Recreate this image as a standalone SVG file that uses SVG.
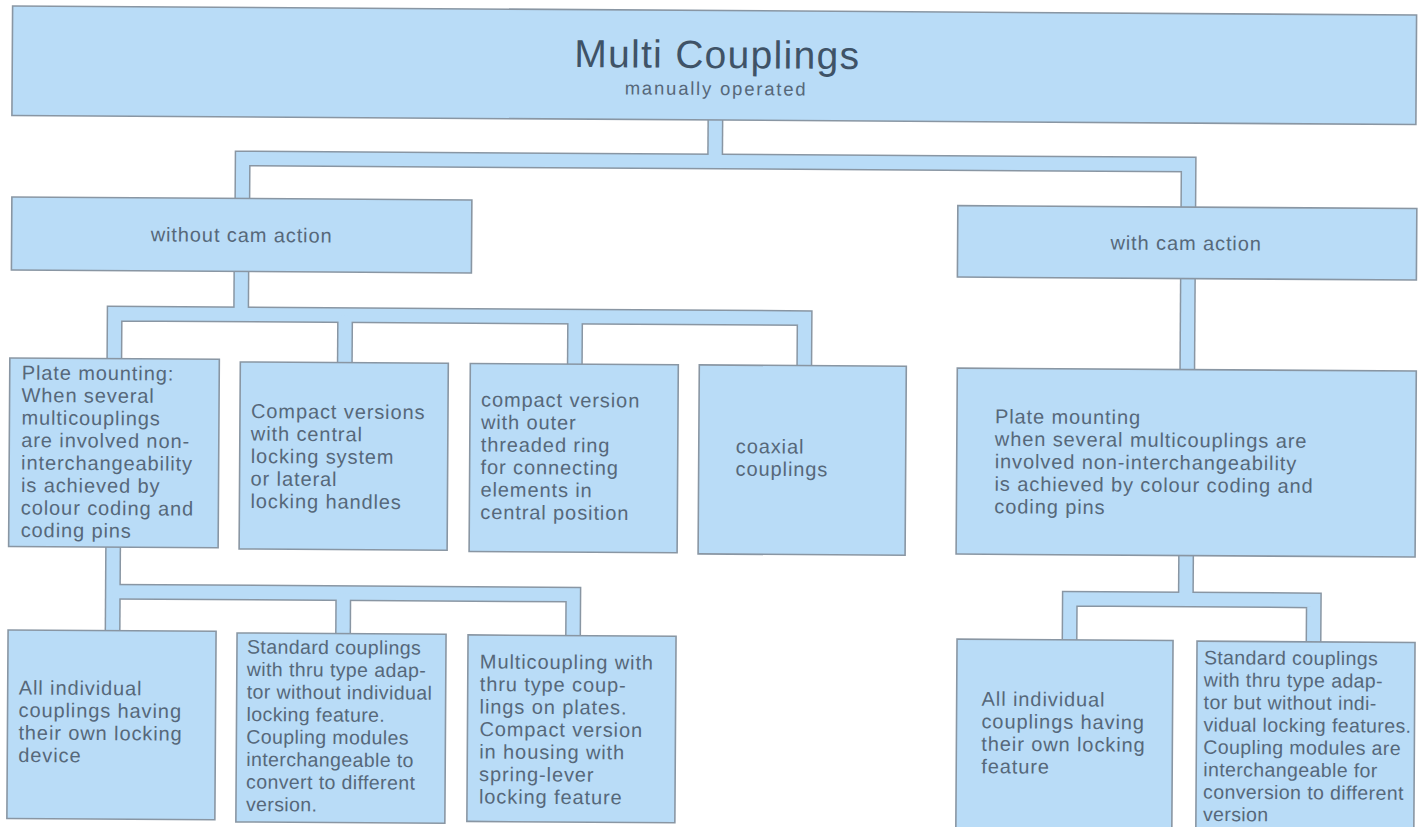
<svg xmlns="http://www.w3.org/2000/svg" width="1426" height="827" viewBox="0 0 1426 827">
<style>
.box{fill:#b9dcf7;stroke:#8996a3;stroke-width:1.6}
.po{fill:none;stroke:#8996a3;stroke-width:16;stroke-linejoin:miter}
.pi{fill:none;stroke:#b9dcf7;stroke-width:13;stroke-linejoin:miter}
text{font-family:"Liberation Sans",Arial,Helvetica,sans-serif;fill:#56687a}
.b{font-size:20px;letter-spacing:0.9px}
.n{font-size:19.5px;letter-spacing:0.4px}
.c{text-anchor:middle}
.t{font-size:39px;letter-spacing:1.3px;fill:#3f5367}
.s{font-size:18.5px;letter-spacing:1.8px}
</style>
<rect x="0" y="0" width="1426" height="827" fill="#ffffff"/>
<g transform="rotate(0.37 713 413)">
<g id="connectors">
<path class="po" d="M241,204 V161.5 H1187 V206"/>
<path class="po" d="M713.5,118 V161.5"/>
<path class="po" d="M114,364 V317.5 H804 V367"/>
<path class="po" d="M240.5,272 V317.5"/>
<path class="po" d="M344.5,317.5 V367"/>
<path class="po" d="M574.5,317.5 V367"/>
<path class="po" d="M1187,274 V368"/>
<path class="po" d="M114,549 V637"/>
<path class="po" d="M114,595.5 H574.5 V638"/>
<path class="po" d="M344.5,595.5 V638"/>
<path class="po" d="M1187,551 V596.5"/>
<path class="po" d="M1071,640 V596.5 H1315 V640"/>
<path class="pi" d="M241,204 V161.5 H1187 V206"/>
<path class="pi" d="M713.5,118 V161.5"/>
<path class="pi" d="M114,364 V317.5 H804 V367"/>
<path class="pi" d="M240.5,272 V317.5"/>
<path class="pi" d="M344.5,317.5 V367"/>
<path class="pi" d="M574.5,317.5 V367"/>
<path class="pi" d="M1187,274 V368"/>
<path class="pi" d="M114,549 V637"/>
<path class="pi" d="M114,595.5 H574.5 V638"/>
<path class="pi" d="M344.5,595.5 V638"/>
<path class="pi" d="M1187,551 V596.5"/>
<path class="pi" d="M1071,640 V596.5 H1315 V640"/>
</g>
<g id="root">
<rect class="box" x="10" y="10.5" width="1404" height="109.5"/>
<text class="t c" x="715" y="68">Multi Couplings</text>
<text class="s c" x="714" y="95">manually operated</text>
</g>
<g id="without-cam">
<rect class="box" x="10.5" y="201.5" width="460" height="73"/>
<text class="b c" x="240.5" y="245">without cam action</text>
</g>
<g id="with-cam">
<rect class="box" x="956.5" y="204" width="459" height="71.5"/>
<text class="b c" x="1185" y="247">with cam action</text>
</g>
<g id="plate-mounting-left">
<rect class="box" x="9.5" y="362.5" width="209.5" height="188.5"/>
<text class="b">
<tspan x="21.5" y="384">Plate mounting:</tspan>
<tspan x="21.5" y="406.5">When several</tspan>
<tspan x="21.5" y="429">multicouplings</tspan>
<tspan x="21.5" y="451.5">are involved non-</tspan>
<tspan x="21.5" y="474">interchangeability</tspan>
<tspan x="21.5" y="496.5">is achieved by</tspan>
<tspan x="21.5" y="519">colour coding and</tspan>
<tspan x="21.5" y="541.5">coding pins</tspan>
</text>
</g>
<g id="compact-versions">
<rect class="box" x="240" y="365" width="208" height="187"/>
<text class="b">
<tspan x="251" y="421">Compact versions</tspan>
<tspan x="251" y="443.5">with central</tspan>
<tspan x="251" y="466">locking system</tspan>
<tspan x="251" y="488.5">or lateral</tspan>
<tspan x="251" y="511">locking handles</tspan>
</text>
</g>
<g id="compact-threaded">
<rect class="box" x="470" y="365" width="208" height="188"/>
<text class="b">
<tspan x="481" y="408">compact version</tspan>
<tspan x="481" y="430.5">with outer</tspan>
<tspan x="481" y="453">threaded ring</tspan>
<tspan x="481" y="475.5">for connecting</tspan>
<tspan x="481" y="498">elements in</tspan>
<tspan x="481" y="520.5">central position</tspan>
</text>
</g>
<g id="coaxial">
<rect class="box" x="699" y="365" width="207" height="189"/>
<text class="b">
<tspan x="736" y="453">coaxial</tspan>
<tspan x="736" y="475.5">couplings</tspan>
</text>
</g>
<g id="plate-mounting-right">
<rect class="box" x="957" y="366.5" width="459" height="186"/>
<text class="b">
<tspan x="995" y="421.5">Plate mounting</tspan>
<tspan x="995" y="444">when several multicouplings are</tspan>
<tspan x="995" y="466.5">involved non-interchangeability</tspan>
<tspan x="995" y="489">is achieved by colour coding and</tspan>
<tspan x="995" y="511.5">coding pins</tspan>
</text>
</g>
<g id="individual-left">
<rect class="box" x="9.5" y="634.5" width="208" height="188.5"/>
<text class="b">
<tspan x="20.5" y="699">All individual</tspan>
<tspan x="20.5" y="721.5">couplings having</tspan>
<tspan x="20.5" y="744">their own locking</tspan>
<tspan x="20.5" y="766.5">device</tspan>
</text>
</g>
<g id="standard-left">
<rect class="box" x="238.5" y="636" width="209" height="189"/>
<text class="n">
<tspan x="248.5" y="656.5">Standard couplings</tspan>
<tspan x="248.5" y="679">with thru type adap-</tspan>
<tspan x="248.5" y="701.5">tor without individual</tspan>
<tspan x="248.5" y="724">locking feature.</tspan>
<tspan x="248.5" y="746.5">Coupling modules</tspan>
<tspan x="248.5" y="769">interchangeable to</tspan>
<tspan x="248.5" y="791.5">convert to different</tspan>
<tspan x="248.5" y="814">version.</tspan>
</text>
</g>
<g id="multicoupling-plates">
<rect class="box" x="469.5" y="636.5" width="208" height="186.5"/>
<text class="b">
<tspan x="481.5" y="670">Multicoupling with</tspan>
<tspan x="481.5" y="692.5">thru type coup-</tspan>
<tspan x="481.5" y="715">lings on plates.</tspan>
<tspan x="481.5" y="737.5">Compact version</tspan>
<tspan x="481.5" y="760">in housing with</tspan>
<tspan x="481.5" y="782.5">spring-lever</tspan>
<tspan x="481.5" y="805">locking feature</tspan>
</text>
</g>
<g id="individual-right">
<rect class="box" x="958.5" y="637.5" width="216" height="192"/>
<text class="b">
<tspan x="983.5" y="704">All individual</tspan>
<tspan x="983.5" y="726.5">couplings having</tspan>
<tspan x="983.5" y="749">their own locking</tspan>
<tspan x="983.5" y="771.5">feature</tspan>
</text>
</g>
<g id="standard-right">
<rect class="box" x="1198.5" y="638" width="218" height="192"/>
<text class="n">
<tspan x="1205.5" y="661">Standard couplings</tspan>
<tspan x="1205.5" y="683.4">with thru type adap-</tspan>
<tspan x="1205.5" y="705.8">tor but without indi-</tspan>
<tspan x="1205.5" y="728.2">vidual locking features.</tspan>
<tspan x="1205.5" y="750.6">Coupling modules are</tspan>
<tspan x="1205.5" y="773">interchangeable for</tspan>
<tspan x="1205.5" y="795.4">conversion to different</tspan>
<tspan x="1205.5" y="817.8">version</tspan>
</text>
</g>
</g>
</svg>
